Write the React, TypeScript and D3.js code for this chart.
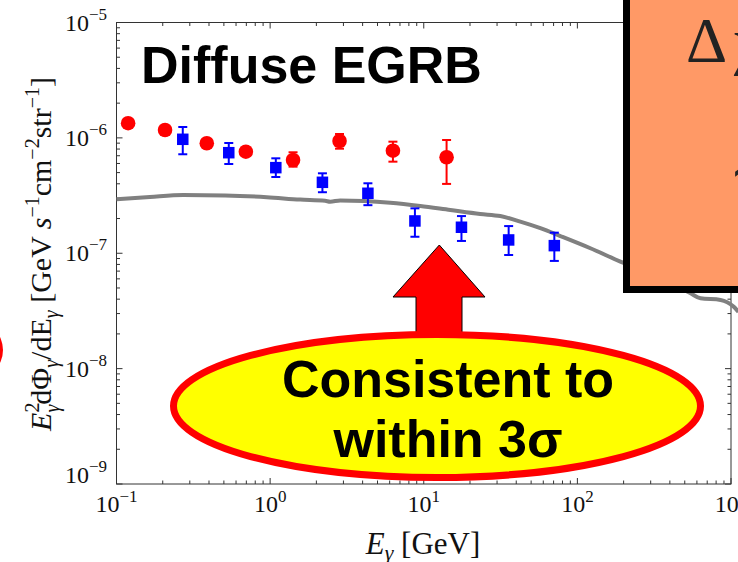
import React from "react";
import * as d3 from "d3";

const W = 738;
const H = 562;

// EGRET-like diffuse points (red circles)
const redE = [0.119, 0.207, 0.387, 0.695, 1.41, 2.83, 6.3, 14.08];
const redF = [1.34e-6, 1.17e-6, 8.98e-7, 7.59e-7, 6.43e-7, 9.4e-7, 7.74e-7, 6.79e-7];
const redLo = [1.25e-6, 1.09e-6, 8.4e-7, 7.1e-7, 5.63e-7, 8.06e-7, 6.22e-7, 3.99e-7];
const redHi = [1.43e-6, 1.25e-6, 9.6e-7, 8.1e-7, 7.5e-7, 1.081e-6, 9.27e-7, 9.59e-7];

// Fermi-like diffuse points (blue squares)
const blueE = [0.27, 0.538, 1.089, 2.19, 4.33, 8.76, 17.6, 35.7, 70.8];
const blueF = [9.72e-7, 7.44e-7, 5.52e-7, 4.12e-7, 3.31e-7, 1.905e-7, 1.68e-7, 1.304e-7, 1.164e-7];
const blueLo = [7.21e-7, 5.94e-7, 4.58e-7, 3.38e-7, 2.61e-7, 1.39e-7, 1.278e-7, 9.66e-8, 8.58e-8];
const blueHi = [1.243e-6, 9.03e-7, 6.65e-7, 4.93e-7, 4.04e-7, 2.45e-7, 2.1e-7, 1.72e-7, 1.508e-7];

// Model prediction (gray curve)
const curveE = [0.1, 0.165, 0.272, 0.509, 0.952, 1.568, 2.28, 2.46, 2.86, 6.05, 9.49, 14.9, 23.3, 31.5, 42.5, 57.4, 77.5, 121.5, 190.6, 299, 545, 633, 855, 1038, 1119];
const curveF = [2.94e-7, 3.08e-7, 3.2e-7, 3.17e-7, 3.06e-7, 2.92e-7, 2.85e-7, 2.8e-7, 2.87e-7, 2.74e-7, 2.57e-7, 2.37e-7, 2.19e-7, 2.1e-7, 1.88e-7, 1.65e-7, 1.41e-7, 1.105e-7, 8.46e-8, 6.62e-8, 4.5e-8, 4.07e-8, 3.94e-8, 3.45e-8, 3.1e-8];

const xDomain = [0.1, 1000];
const yDomain = [1e-9, 1e-5];
const xMajorExp = [-1, 0, 1, 2, 3];
const yMajorExp = [-9, -8, -7, -6, -5];

const SERIF = "'Liberation Serif', 'Times New Roman', serif";
const SANS = "'Liberation Sans', Arial, sans-serif";

const L = 116.5, R = 731, T = 22.5, B = 484;

export default function App() {
  const x = d3.scaleLog().domain(xDomain).range([L, R]);
  const y = d3.scaleLog().domain(yDomain).range([B, T]);

  const isMajor = (v: number) => Math.abs(Math.log10(v) - Math.round(Math.log10(v))) < 1e-6;
  const xTicks = x.ticks();
  const yTicks = y.ticks();

  const line = d3
    .line<number>()
    .x((_, i) => x(curveE[i]))
    .y((d) => y(d))
    .curve(d3.curveMonotoneX);

  const axisColor = "#333";

  return (
    <svg
      width={W}
      height={H}
      viewBox={`0 0 ${W} ${H}`}
      style={{ position: "absolute", left: 0, top: 0, display: "block", background: "#fff" }}
    >
      <rect x={0} y={0} width={W} height={H} fill="#fff" />

      {/* frame */}
      <rect x={L} y={T} width={R - L} height={B - T} fill="none" stroke={axisColor} strokeWidth={1} />

      {/* x ticks (bottom and top) */}
      {xTicks.map((v, i) => {
        const len = isMajor(v) ? 6 : 3.5;
        const px = x(v);
        return (
          <g key={"xt" + i} stroke={axisColor} strokeWidth={1}>
            <line x1={px} x2={px} y1={B} y2={B - len} />
            <line x1={px} x2={px} y1={T} y2={T + len} />
          </g>
        );
      })}
      {/* y ticks (left and right) */}
      {yTicks.map((v, i) => {
        const len = isMajor(v) ? 6 : 3.5;
        const py = y(v);
        return (
          <g key={"yt" + i} stroke={axisColor} strokeWidth={1}>
            <line x1={L} x2={L + len} y1={py} y2={py} />
            <line x1={R} x2={R - len} y1={py} y2={py} />
          </g>
        );
      })}

      {/* tick labels */}
      {xMajorExp.map((e) => (
        <text key={"xl" + e} x={x(Math.pow(10, e))} y={512} textAnchor="middle" fontFamily={SERIF} fontSize={24} fill="#111">
          10
          <tspan fontSize={17} dy={-10}>
            {e < 0 ? "\u2212" + Math.abs(e) : String(e)}
          </tspan>
        </text>
      ))}
      {yMajorExp.map((e) => (
        <text
          key={"yl" + e}
          x={107}
          y={y(Math.pow(10, e)) + (e === -9 ? -1 : 8)}
          textAnchor="end"
          fontFamily={SERIF}
          fontSize={24}
          fill="#111"
        >
          10
          <tspan fontSize={17} dy={-11}>
            {"\u2212" + Math.abs(e)}
          </tspan>
        </text>
      ))}

      {/* axis titles */}
      <text x={423} y={554} textAnchor="middle" fontFamily={SERIF} fontSize={31} fill="#111">
        <tspan fontStyle="italic">E</tspan>
        <tspan fontStyle="italic" fontSize={22} dy={6}>
          γ
        </tspan>
        <tspan dy={-6}> [GeV]</tspan>
      </text>
      <text
        transform="translate(51,254) rotate(-90)"
        textAnchor="middle"
        fontFamily={SERIF}
        fontSize={30}
        fill="#111"
      >
        <tspan fontStyle="italic">E</tspan>
        <tspan fontSize={20} dy={-12}>
          2
        </tspan>
        <tspan fontSize={20} fontStyle="italic" dx={-10} dy={20}>
          γ
        </tspan>
        <tspan dy={-8}>dΦ</tspan>
        <tspan fontSize={20} fontStyle="italic" dy={7}>
          γ
        </tspan>
        <tspan dy={-7}>/dE</tspan>
        <tspan fontSize={20} fontStyle="italic" dy={7}>
          γ
        </tspan>
        <tspan dy={-7}> [GeV </tspan>
        <tspan fontStyle="italic">s</tspan>
        <tspan fontSize={20} dy={-12}>
          −1
        </tspan>
        <tspan dy={12}>cm</tspan>
        <tspan fontSize={20} dy={-12}>
          −2
        </tspan>
        <tspan dy={12}>str</tspan>
        <tspan fontSize={20} dy={-12}>
          −1
        </tspan>
        <tspan dy={12}>]</tspan>
      </text>

      {/* model curve */}
      <path d={line(curveF) || ""} fill="none" stroke="#808080" strokeWidth={4} strokeLinejoin="round" />

      {/* red points */}
      {redE.map((e, i) => {
        const px = x(e);
        return (
          <g key={"r" + i} stroke="#ff0000" strokeWidth={2}>
            <line x1={px} x2={px} y1={y(redLo[i])} y2={y(redHi[i])} />
            <line x1={px - 4.5} x2={px + 4.5} y1={y(redLo[i])} y2={y(redLo[i])} />
            <line x1={px - 4.5} x2={px + 4.5} y1={y(redHi[i])} y2={y(redHi[i])} />
            <circle cx={px} cy={y(redF[i])} r={7.3} fill="#ff0000" stroke="none" />
          </g>
        );
      })}

      {/* blue points */}
      {blueE.map((e, i) => {
        const px = x(e);
        const s = 11.5;
        return (
          <g key={"b" + i} stroke="#0000ff" strokeWidth={2}>
            <line x1={px} x2={px} y1={y(blueLo[i])} y2={y(blueHi[i])} />
            <line x1={px - 4.5} x2={px + 4.5} y1={y(blueLo[i])} y2={y(blueLo[i])} />
            <line x1={px - 4.5} x2={px + 4.5} y1={y(blueHi[i])} y2={y(blueHi[i])} />
            <rect x={px - s / 2} y={y(blueF[i]) - s / 2} width={s} height={s} fill="#0000ff" stroke="none" />
          </g>
        );
      })}

      {/* title */}
      <text x={141} y={83} fontFamily={SANS} fontWeight="bold" fontSize={52} fill="#000">
        Diffuse EGRB
      </text>

      {/* up arrow */}
      <path
        d="M439.3,245 L485,297 L462,297 L462,350 L416,350 L416,297 L393,297 Z"
        fill="#ff0000"
        stroke="#000"
        strokeWidth={1}
      />

      {/* callout ellipse */}
      <ellipse cx={437} cy={406} rx={263.5} ry={71.5} fill="#ffff00" stroke="#ff0000" strokeWidth={7} />
      <text x={448} y={397} textAnchor="middle" fontFamily={SANS} fontWeight="bold" fontSize={52} fill="#000">
        Consistent to
      </text>
      <text x={448} y={457} textAnchor="middle" fontFamily={SANS} fontWeight="bold" fontSize={52} fill="#000">
        within 3σ
      </text>

      {/* side bullet */}
      <circle cx={-26.7} cy={350} r={29.7} fill="#ff0000" />

      {/* side box */}
      <rect x={626.5} y={-20} width={140} height={309.5} fill="#ff9966" stroke="#000" strokeWidth={7} />
      <text y={62} fontFamily={SERIF} fontSize={64} fill="#222">
        <tspan x={686}>Δ</tspan>
        <tspan x={734}>χ²</tspan>
      </text>
      <text x={729} y={190} fontFamily={SERIF} fontSize={58} fill="#222">
        ∼
      </text>
    </svg>
  );
}
